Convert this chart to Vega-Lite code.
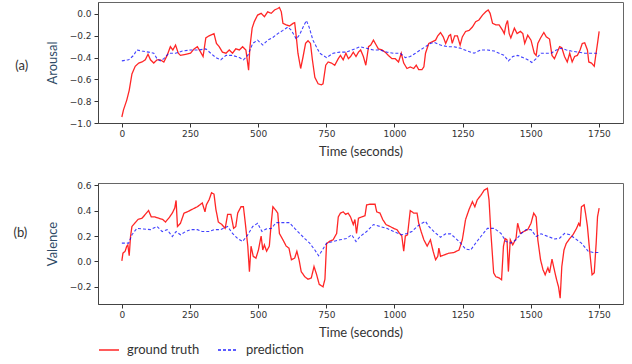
{
  "$schema": "https://vega.github.io/schema/vega-lite/v6.json",
  "padding": {"left": 12, "top": 1, "right": 6, "bottom": 4},
  "background": "white",
  "config": {
    "view": {"stroke": "#666", "strokeWidth": 1},
    "axis": {"grid": false, "labelFont": "DejaVu Sans", "labelFontSize": 9, "labelColor": "#333", "tickColor": "#333", "domainColor": "#444", "tickSize": 4, "titleFont": "Lato", "titleFontSize": 13, "titleFontWeight": "normal", "titleColor": "#333"},
    "legend": {"labelFont": "Lato", "labelFontSize": 13, "labelColor": "#333"}
  },
  "datasets": {
    "agt": [{"t":0,"v":-0.945},{"t":6,"v":-0.88},{"t":18,"v":-0.79},{"t":27,"v":-0.7},{"t":37,"v":-0.55},{"t":49,"v":-0.48},{"t":62,"v":-0.45},{"t":74,"v":-0.44},{"t":86,"v":-0.42},{"t":96,"v":-0.37},{"t":105,"v":-0.42},{"t":117,"v":-0.45},{"t":129,"v":-0.42},{"t":141,"v":-0.42},{"t":154,"v":-0.44},{"t":166,"v":-0.38},{"t":178,"v":-0.3},{"t":187,"v":-0.33},{"t":197,"v":-0.285},{"t":207,"v":-0.36},{"t":215,"v":-0.38},{"t":234,"v":-0.37},{"t":252,"v":-0.36},{"t":265,"v":-0.32},{"t":277,"v":-0.3},{"t":289,"v":-0.35},{"t":298,"v":-0.39},{"t":308,"v":-0.22},{"t":320,"v":-0.2},{"t":338,"v":-0.18},{"t":347,"v":-0.27},{"t":357,"v":-0.3},{"t":369,"v":-0.35},{"t":382,"v":-0.36},{"t":394,"v":-0.33},{"t":406,"v":-0.36},{"t":418,"v":-0.32},{"t":431,"v":-0.33},{"t":443,"v":-0.3},{"t":455,"v":-0.33},{"t":465,"v":-0.515},{"t":470,"v":-0.3},{"t":478,"v":-0.13},{"t":486,"v":-0.07},{"t":498,"v":-0.01},{"t":511,"v":0.006},{"t":523,"v":-0.025},{"t":535,"v":0.02},{"t":548,"v":0.006},{"t":560,"v":0.037},{"t":572,"v":0.05},{"t":578,"v":0.06},{"t":585,"v":0.02},{"t":591,"v":-0.086},{"t":603,"v":-0.1},{"t":615,"v":-0.11},{"t":628,"v":-0.086},{"t":634,"v":-0.08},{"t":640,"v":-0.21},{"t":646,"v":-0.36},{"t":656,"v":-0.5},{"t":665,"v":-0.39},{"t":674,"v":-0.27},{"t":683,"v":-0.245},{"t":692,"v":-0.27},{"t":699,"v":-0.42},{"t":708,"v":-0.58},{"t":720,"v":-0.64},{"t":732,"v":-0.65},{"t":738,"v":-0.64},{"t":748,"v":-0.47},{"t":757,"v":-0.44},{"t":769,"v":-0.45},{"t":781,"v":-0.47},{"t":794,"v":-0.41},{"t":802,"v":-0.38},{"t":812,"v":-0.42},{"t":822,"v":-0.36},{"t":831,"v":-0.41},{"t":839,"v":-0.39},{"t":849,"v":-0.35},{"t":859,"v":-0.39},{"t":868,"v":-0.35},{"t":876,"v":-0.33},{"t":886,"v":-0.39},{"t":895,"v":-0.47},{"t":905,"v":-0.3},{"t":913,"v":-0.285},{"t":923,"v":-0.24},{"t":933,"v":-0.285},{"t":941,"v":-0.32},{"t":954,"v":-0.33},{"t":966,"v":-0.35},{"t":978,"v":-0.38},{"t":991,"v":-0.41},{"t":1003,"v":-0.41},{"t":1015,"v":-0.44},{"t":1025,"v":-0.36},{"t":1034,"v":-0.45},{"t":1046,"v":-0.5},{"t":1058,"v":-0.485},{"t":1071,"v":-0.5},{"t":1080,"v":-0.47},{"t":1089,"v":-0.51},{"t":1101,"v":-0.51},{"t":1108,"v":-0.485},{"t":1114,"v":-0.36},{"t":1126,"v":-0.27},{"t":1138,"v":-0.255},{"t":1151,"v":-0.24},{"t":1159,"v":-0.2},{"t":1169,"v":-0.17},{"t":1179,"v":-0.21},{"t":1188,"v":-0.27},{"t":1200,"v":-0.2},{"t":1206,"v":-0.19},{"t":1212,"v":-0.27},{"t":1221,"v":-0.2},{"t":1231,"v":-0.2},{"t":1241,"v":-0.285},{"t":1249,"v":-0.21},{"t":1261,"v":-0.16},{"t":1274,"v":-0.15},{"t":1286,"v":-0.12},{"t":1298,"v":-0.07},{"t":1310,"v":-0.055},{"t":1323,"v":-0.01},{"t":1335,"v":0.02},{"t":1344,"v":0.037},{"t":1351,"v":0.006},{"t":1360,"v":-0.086},{"t":1372,"v":-0.1},{"t":1384,"v":-0.1},{"t":1397,"v":-0.15},{"t":1403,"v":-0.18},{"t":1409,"v":-0.1},{"t":1415,"v":-0.06},{"t":1421,"v":-0.18},{"t":1427,"v":-0.22},{"t":1440,"v":-0.13},{"t":1450,"v":-0.18},{"t":1462,"v":-0.16},{"t":1471,"v":-0.18},{"t":1478,"v":-0.27},{"t":1489,"v":-0.195},{"t":1501,"v":-0.24},{"t":1513,"v":-0.36},{"t":1520,"v":-0.38},{"t":1526,"v":-0.27},{"t":1536,"v":-0.22},{"t":1548,"v":-0.17},{"t":1557,"v":-0.21},{"t":1569,"v":-0.23},{"t":1578,"v":-0.38},{"t":1587,"v":-0.41},{"t":1597,"v":-0.35},{"t":1606,"v":-0.3},{"t":1614,"v":-0.31},{"t":1624,"v":-0.39},{"t":1634,"v":-0.44},{"t":1643,"v":-0.36},{"t":1652,"v":-0.44},{"t":1661,"v":-0.39},{"t":1671,"v":-0.38},{"t":1681,"v":-0.33},{"t":1689,"v":-0.27},{"t":1698,"v":-0.264},{"t":1708,"v":-0.33},{"t":1713,"v":-0.44},{"t":1723,"v":-0.45},{"t":1733,"v":-0.48},{"t":1738,"v":-0.39},{"t":1745,"v":-0.27},{"t":1751,"v":-0.16}],
    "apr": [{"t":0,"v":-0.43},{"t":25,"v":-0.42},{"t":43,"v":-0.38},{"t":55,"v":-0.33},{"t":74,"v":-0.34},{"t":98,"v":-0.35},{"t":117,"v":-0.36},{"t":129,"v":-0.41},{"t":141,"v":-0.43},{"t":154,"v":-0.41},{"t":172,"v":-0.36},{"t":197,"v":-0.36},{"t":222,"v":-0.34},{"t":252,"v":-0.33},{"t":283,"v":-0.33},{"t":308,"v":-0.32},{"t":326,"v":-0.36},{"t":345,"v":-0.4},{"t":363,"v":-0.42},{"t":382,"v":-0.38},{"t":406,"v":-0.38},{"t":431,"v":-0.4},{"t":446,"v":-0.42},{"t":462,"v":-0.38},{"t":480,"v":-0.27},{"t":498,"v":-0.24},{"t":517,"v":-0.285},{"t":535,"v":-0.24},{"t":554,"v":-0.215},{"t":572,"v":-0.18},{"t":591,"v":-0.15},{"t":609,"v":-0.12},{"t":622,"v":-0.15},{"t":640,"v":-0.23},{"t":652,"v":-0.19},{"t":665,"v":-0.12},{"t":677,"v":-0.06},{"t":687,"v":-0.12},{"t":701,"v":-0.24},{"t":726,"v":-0.36},{"t":751,"v":-0.4},{"t":775,"v":-0.36},{"t":800,"v":-0.35},{"t":824,"v":-0.35},{"t":849,"v":-0.325},{"t":874,"v":-0.3},{"t":898,"v":-0.315},{"t":923,"v":-0.33},{"t":947,"v":-0.33},{"t":972,"v":-0.35},{"t":997,"v":-0.36},{"t":1021,"v":-0.36},{"t":1040,"v":-0.4},{"t":1058,"v":-0.39},{"t":1077,"v":-0.36},{"t":1095,"v":-0.33},{"t":1114,"v":-0.3},{"t":1132,"v":-0.27},{"t":1145,"v":-0.26},{"t":1169,"v":-0.285},{"t":1194,"v":-0.3},{"t":1218,"v":-0.3},{"t":1243,"v":-0.315},{"t":1268,"v":-0.34},{"t":1292,"v":-0.36},{"t":1317,"v":-0.33},{"t":1341,"v":-0.33},{"t":1366,"v":-0.34},{"t":1384,"v":-0.36},{"t":1403,"v":-0.38},{"t":1418,"v":-0.43},{"t":1434,"v":-0.39},{"t":1452,"v":-0.38},{"t":1471,"v":-0.4},{"t":1489,"v":-0.42},{"t":1504,"v":-0.445},{"t":1520,"v":-0.41},{"t":1538,"v":-0.36},{"t":1557,"v":-0.36},{"t":1575,"v":-0.36},{"t":1594,"v":-0.33},{"t":1612,"v":-0.315},{"t":1631,"v":-0.33},{"t":1649,"v":-0.34},{"t":1674,"v":-0.35},{"t":1698,"v":-0.36},{"t":1723,"v":-0.36},{"t":1751,"v":-0.36}],
    "vgt": [{"t":0,"v":0.005},{"t":4,"v":0.065},{"t":12,"v":0.08},{"t":18,"v":0.12},{"t":22,"v":0.13},{"t":27,"v":0.045},{"t":32,"v":0.2},{"t":37,"v":0.275},{"t":47,"v":0.3},{"t":59,"v":0.33},{"t":74,"v":0.34},{"t":86,"v":0.37},{"t":98,"v":0.4},{"t":108,"v":0.35},{"t":121,"v":0.35},{"t":135,"v":0.34},{"t":150,"v":0.33},{"t":160,"v":0.31},{"t":172,"v":0.34},{"t":185,"v":0.38},{"t":194,"v":0.42},{"t":199,"v":0.48},{"t":204,"v":0.275},{"t":215,"v":0.3},{"t":228,"v":0.38},{"t":240,"v":0.39},{"t":258,"v":0.41},{"t":277,"v":0.43},{"t":295,"v":0.46},{"t":305,"v":0.39},{"t":310,"v":0.445},{"t":320,"v":0.485},{"t":329,"v":0.54},{"t":338,"v":0.53},{"t":345,"v":0.41},{"t":354,"v":0.31},{"t":367,"v":0.29},{"t":379,"v":0.26},{"t":388,"v":0.37},{"t":400,"v":0.37},{"t":410,"v":0.26},{"t":418,"v":0.275},{"t":425,"v":0.38},{"t":437,"v":0.43},{"t":446,"v":0.43},{"t":453,"v":0.3},{"t":462,"v":0.12},{"t":468,"v":-0.08},{"t":474,"v":0.12},{"t":482,"v":0.04},{"t":492,"v":0.026},{"t":501,"v":0.09},{"t":511,"v":0.2},{"t":517,"v":0.09},{"t":523,"v":0.13},{"t":531,"v":0.08},{"t":541,"v":0.12},{"t":548,"v":0.3},{"t":554,"v":0.43},{"t":562,"v":0.41},{"t":572,"v":0.38},{"t":578,"v":0.22},{"t":591,"v":0.17},{"t":603,"v":0.12},{"t":613,"v":0.105},{"t":622,"v":0.013},{"t":634,"v":0.026},{"t":642,"v":0.08},{"t":650,"v":0.013},{"t":658,"v":-0.08},{"t":671,"v":-0.12},{"t":683,"v":-0.14},{"t":695,"v":-0.13},{"t":705,"v":-0.04},{"t":714,"v":-0.1},{"t":724,"v":-0.18},{"t":738,"v":-0.2},{"t":745,"v":-0.14},{"t":751,"v":0.14},{"t":763,"v":0.16},{"t":775,"v":0.17},{"t":788,"v":0.22},{"t":794,"v":0.35},{"t":802,"v":0.38},{"t":812,"v":0.39},{"t":821,"v":0.37},{"t":830,"v":0.38},{"t":839,"v":0.35},{"t":849,"v":0.29},{"t":855,"v":0.33},{"t":861,"v":0.22},{"t":868,"v":0.34},{"t":880,"v":0.35},{"t":892,"v":0.36},{"t":898,"v":0.445},{"t":911,"v":0.45},{"t":929,"v":0.45},{"t":935,"v":0.39},{"t":947,"v":0.38},{"t":957,"v":0.33},{"t":969,"v":0.29},{"t":984,"v":0.275},{"t":997,"v":0.26},{"t":1009,"v":0.25},{"t":1019,"v":0.22},{"t":1027,"v":0.2},{"t":1034,"v":0.08},{"t":1040,"v":0.2},{"t":1048,"v":0.21},{"t":1058,"v":0.4},{"t":1071,"v":0.38},{"t":1083,"v":0.38},{"t":1089,"v":0.3},{"t":1098,"v":0.235},{"t":1108,"v":0.17},{"t":1120,"v":0.12},{"t":1132,"v":0.17},{"t":1142,"v":0.08},{"t":1151,"v":0.013},{"t":1159,"v":0.04},{"t":1163,"v":0.105},{"t":1169,"v":0.04},{"t":1181,"v":0.05},{"t":1200,"v":0.065},{"t":1218,"v":0.07},{"t":1237,"v":0.09},{"t":1249,"v":0.17},{"t":1261,"v":0.33},{"t":1274,"v":0.41},{"t":1286,"v":0.47},{"t":1295,"v":0.43},{"t":1304,"v":0.485},{"t":1317,"v":0.52},{"t":1329,"v":0.56},{"t":1341,"v":0.575},{"t":1347,"v":0.485},{"t":1354,"v":0.22},{"t":1364,"v":-0.09},{"t":1372,"v":-0.12},{"t":1384,"v":-0.13},{"t":1393,"v":-0.145},{"t":1400,"v":0.12},{"t":1406,"v":0.18},{"t":1413,"v":0.17},{"t":1418,"v":-0.08},{"t":1425,"v":0.17},{"t":1434,"v":0.13},{"t":1446,"v":0.18},{"t":1452,"v":0.3},{"t":1462,"v":0.22},{"t":1474,"v":0.235},{"t":1489,"v":0.25},{"t":1501,"v":0.3},{"t":1511,"v":0.38},{"t":1520,"v":0.35},{"t":1526,"v":0.17},{"t":1536,"v":0.013},{"t":1545,"v":-0.065},{"t":1553,"v":-0.105},{"t":1563,"v":-0.05},{"t":1569,"v":-0.09},{"t":1578,"v":0.018},{"t":1588,"v":-0.08},{"t":1595,"v":-0.145},{"t":1602,"v":-0.2},{"t":1608,"v":-0.29},{"t":1614,"v":-0.04},{"t":1622,"v":0.09},{"t":1630,"v":0.14},{"t":1643,"v":0.18},{"t":1655,"v":0.21},{"t":1668,"v":0.26},{"t":1676,"v":0.3},{"t":1681,"v":0.275},{"t":1686,"v":0.43},{"t":1696,"v":0.445},{"t":1701,"v":0.38},{"t":1708,"v":0.275},{"t":1717,"v":0.065},{"t":1725,"v":-0.105},{"t":1733,"v":-0.09},{"t":1740,"v":0.14},{"t":1745,"v":0.35},{"t":1751,"v":0.42}],
    "vpr": [{"t":0,"v":0.144},{"t":25,"v":0.144},{"t":37,"v":0.21},{"t":55,"v":0.26},{"t":80,"v":0.255},{"t":105,"v":0.25},{"t":129,"v":0.275},{"t":148,"v":0.235},{"t":166,"v":0.25},{"t":185,"v":0.196},{"t":199,"v":0.235},{"t":215,"v":0.21},{"t":234,"v":0.235},{"t":252,"v":0.25},{"t":277,"v":0.25},{"t":295,"v":0.235},{"t":320,"v":0.235},{"t":338,"v":0.25},{"t":363,"v":0.25},{"t":388,"v":0.275},{"t":406,"v":0.22},{"t":425,"v":0.18},{"t":443,"v":0.157},{"t":462,"v":0.21},{"t":480,"v":0.275},{"t":498,"v":0.3},{"t":514,"v":0.235},{"t":529,"v":0.255},{"t":548,"v":0.26},{"t":566,"v":0.305},{"t":591,"v":0.305},{"t":615,"v":0.305},{"t":634,"v":0.26},{"t":652,"v":0.22},{"t":671,"v":0.18},{"t":689,"v":0.144},{"t":708,"v":0.09},{"t":722,"v":0.045},{"t":736,"v":0.09},{"t":751,"v":0.144},{"t":775,"v":0.157},{"t":800,"v":0.17},{"t":824,"v":0.18},{"t":843,"v":0.21},{"t":859,"v":0.157},{"t":874,"v":0.196},{"t":898,"v":0.235},{"t":923,"v":0.29},{"t":947,"v":0.275},{"t":972,"v":0.26},{"t":997,"v":0.235},{"t":1015,"v":0.22},{"t":1027,"v":0.21},{"t":1046,"v":0.22},{"t":1064,"v":0.235},{"t":1083,"v":0.275},{"t":1101,"v":0.3},{"t":1114,"v":0.315},{"t":1126,"v":0.275},{"t":1145,"v":0.235},{"t":1169,"v":0.19},{"t":1188,"v":0.217},{"t":1206,"v":0.217},{"t":1224,"v":0.183},{"t":1243,"v":0.144},{"t":1261,"v":0.097},{"t":1280,"v":0.09},{"t":1298,"v":0.144},{"t":1317,"v":0.196},{"t":1341,"v":0.26},{"t":1366,"v":0.26},{"t":1391,"v":0.22},{"t":1409,"v":0.157},{"t":1427,"v":0.144},{"t":1446,"v":0.17},{"t":1465,"v":0.22},{"t":1483,"v":0.25},{"t":1501,"v":0.25},{"t":1520,"v":0.196},{"t":1538,"v":0.217},{"t":1563,"v":0.196},{"t":1588,"v":0.176},{"t":1606,"v":0.183},{"t":1624,"v":0.22},{"t":1643,"v":0.21},{"t":1661,"v":0.183},{"t":1686,"v":0.144},{"t":1711,"v":0.08},{"t":1729,"v":0.07},{"t":1751,"v":0.07}]
  },
  "spacing": 60,
  "bounds": "flush",
  "resolve": {"legend": {"color": "independent", "strokeDash": "independent"}},
  "vconcat": [
    {
      "width": 525,
      "height": 121,
      "title": {"text": "(a)", "orient": "left", "angle": 0, "align": "right", "baseline": "middle", "anchor": "middle", "offset": 5, "font": "Lato", "fontSize": 13, "fontWeight": "normal", "color": "#333", "dy": 3},
      "encoding": {
        "x": {"field": "t", "type": "quantitative", "scale": {"domain": [-87.5, 1838.5], "nice": false, "zero": false}, "axis": {"values": [0, 250, 500, 750, 1000, 1250, 1500, 1750], "format": "d", "title": "Time (seconds)", "labelPadding": 2, "titlePadding": 7}},
        "y": {"field": "v", "type": "quantitative", "scale": {"domain": [-1.0, 0.11], "nice": false, "zero": false}, "axis": {"values": [-1.0, -0.8, -0.6, -0.4, -0.2, 0.0], "format": ".1f", "title": "Arousal", "titleColor": "#2e4a66", "labelPadding": 3, "titlePadding": 10}}
      },
      "layer": [
        {"data": {"name": "agt"}, "mark": {"type": "line", "color": "#ff0000", "strokeWidth": 1.3, "opacity": 0.85}},
        {"data": {"name": "apr"}, "mark": {"type": "line", "color": "#0000ff", "strokeWidth": 1.1, "opacity": 0.75, "strokeDash": [3, 2]}}
      ]
    },
    {
      "width": 525,
      "height": 121,
      "title": {"text": "(b)", "orient": "left", "angle": 0, "align": "right", "baseline": "middle", "anchor": "middle", "offset": 5, "font": "Lato", "fontSize": 13, "fontWeight": "normal", "color": "#333", "dy": -11},
      "encoding": {
        "x": {"field": "t", "type": "quantitative", "scale": {"domain": [-87.5, 1838.5], "nice": false, "zero": false}, "axis": {"values": [0, 250, 500, 750, 1000, 1250, 1500, 1750], "format": "d", "title": "Time (seconds)", "labelPadding": 2, "titlePadding": 7}},
        "y": {"field": "v", "type": "quantitative", "scale": {"domain": [-0.335, 0.617], "nice": false, "zero": false}, "axis": {"values": [-0.2, 0.0, 0.2, 0.4, 0.6], "format": ".1f", "title": "Valence", "titleColor": "#2e4a66", "labelPadding": 3, "titlePadding": 10}},
        "color": {"datum": "ground truth", "type": "nominal", "scale": {"domain": ["ground truth", "prediction"], "range": ["#ff0000", "#0000ff"]}, "legend": {"title": null, "orient": "none", "legendX": 0, "legendY": 156, "direction": "horizontal", "symbolType": "stroke", "symbolSize": 400, "symbolStrokeWidth": 1.6, "labelOffset": 7, "columnPadding": 14}},
        "strokeDash": {"datum": "ground truth", "type": "nominal", "scale": {"domain": ["ground truth", "prediction"], "range": [[1, 0], [3, 2]]}, "legend": {"title": null, "orient": "none", "legendX": 0, "legendY": 156, "direction": "horizontal", "symbolType": "stroke", "symbolSize": 400, "symbolStrokeWidth": 1.6, "labelOffset": 7, "columnPadding": 14}}
      },
      "layer": [
        {"data": {"name": "vgt"}, "mark": {"type": "line", "strokeWidth": 1.3, "opacity": 0.85}},
        {"data": {"name": "vpr"}, "mark": {"type": "line", "strokeWidth": 1.1, "opacity": 0.75}, "encoding": {"color": {"datum": "prediction", "type": "nominal"}, "strokeDash": {"datum": "prediction", "type": "nominal"}}}
      ]
    }
  ]
}
